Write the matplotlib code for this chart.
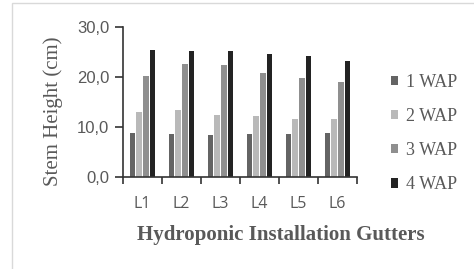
import numpy as np
import matplotlib.pyplot as plt
from matplotlib.patches import Rectangle

# Datos
canales = ['L1', 'L2', 'L3', 'L4', 'L5', 'L6']
series = ['1 WAP', '2 WAP', '3 WAP', '4 WAP']
wap1 = [8.8, 8.7, 8.5, 8.7, 8.6, 8.8]
wap2 = [13.1, 13.5, 12.5, 12.3, 11.7, 11.7]
wap3 = [20.3, 22.6, 22.5, 20.8, 19.8, 19.0]
wap4 = [25.5, 25.3, 25.2, 24.6, 24.3, 23.3]
colores = ['#646464', '#b9b9b9', '#8f8f8f', '#232323']

W, H = 474, 269
fig = plt.figure(figsize=(W / 100, H / 100), dpi=100)
fig.patches.append(Rectangle((12 / W, -0.1), 1.2, 1.1 - 3 / H, transform=fig.transFigure,
                             fill=False, edgecolor='#d9d9d9', lw=1))
ax = fig.add_axes([123 / W, 1 - 177 / H, 234 / W, 150 / H])

x = np.arange(len(canales))
paso = 0.172
ancho = 0.15
for i, (vals, nombre) in enumerate(zip([wap1, wap2, wap3, wap4], series)):
    ax.bar(x + (i - 1.5) * paso, vals, ancho, color=colores[i], label=nombre, zorder=2)

ax.set_xlim(-0.5, len(canales) - 0.5)
ax.set_ylim(0, 30)
ax.set_yticks([0, 10, 20, 30])
ax.set_yticklabels(['0,0', '10,0', '20,0', '30,0'], fontsize=12, color='#595959',
                   family='Liberation Sans')
ax.set_xticks(x)
ax.set_xticklabels(canales, fontsize=11.5, color='#595959', family='Open Sans')
ax.set_xticks(np.arange(-0.5, len(canales)), minor=True)
ax.tick_params(axis='x', which='major', length=0, pad=14)
ax.tick_params(axis='x', which='minor', length=5, width=1.2, color='#333333')
ax.tick_params(axis='y', length=6, width=1.2, color='#333333', pad=4)

for s in ['top', 'right']:
    ax.spines[s].set_visible(False)
for s in ['left', 'bottom']:
    ax.spines[s].set_color('#333333')
    ax.spines[s].set_linewidth(1.2)

fig.text(53 / W, 1 - 111.5 / H, 'Stem Height (cm)', rotation=90, ha='center', va='center',
         family='Liberation Serif', fontsize=15, color='#595959')
fig.text(281 / W, 1 - 235 / H, 'Hydroponic Installation Gutters', ha='center', va='center',
         family='Liberation Serif', fontsize=15, fontweight='bold', color='#595959')

leg = fig.legend(loc='upper left', bbox_to_anchor=(391 / W, 1 - 74 / H), frameon=False,
                 prop={'family': 'Liberation Serif', 'size': 13}, borderpad=0,
                 borderaxespad=0, handlelength=0.4, handleheight=0.4, handletextpad=0.45,
                 labelspacing=0.95)
for t in leg.get_texts():
    t.set_color('#595959')

fig.savefig('out.png', dpi=100)
